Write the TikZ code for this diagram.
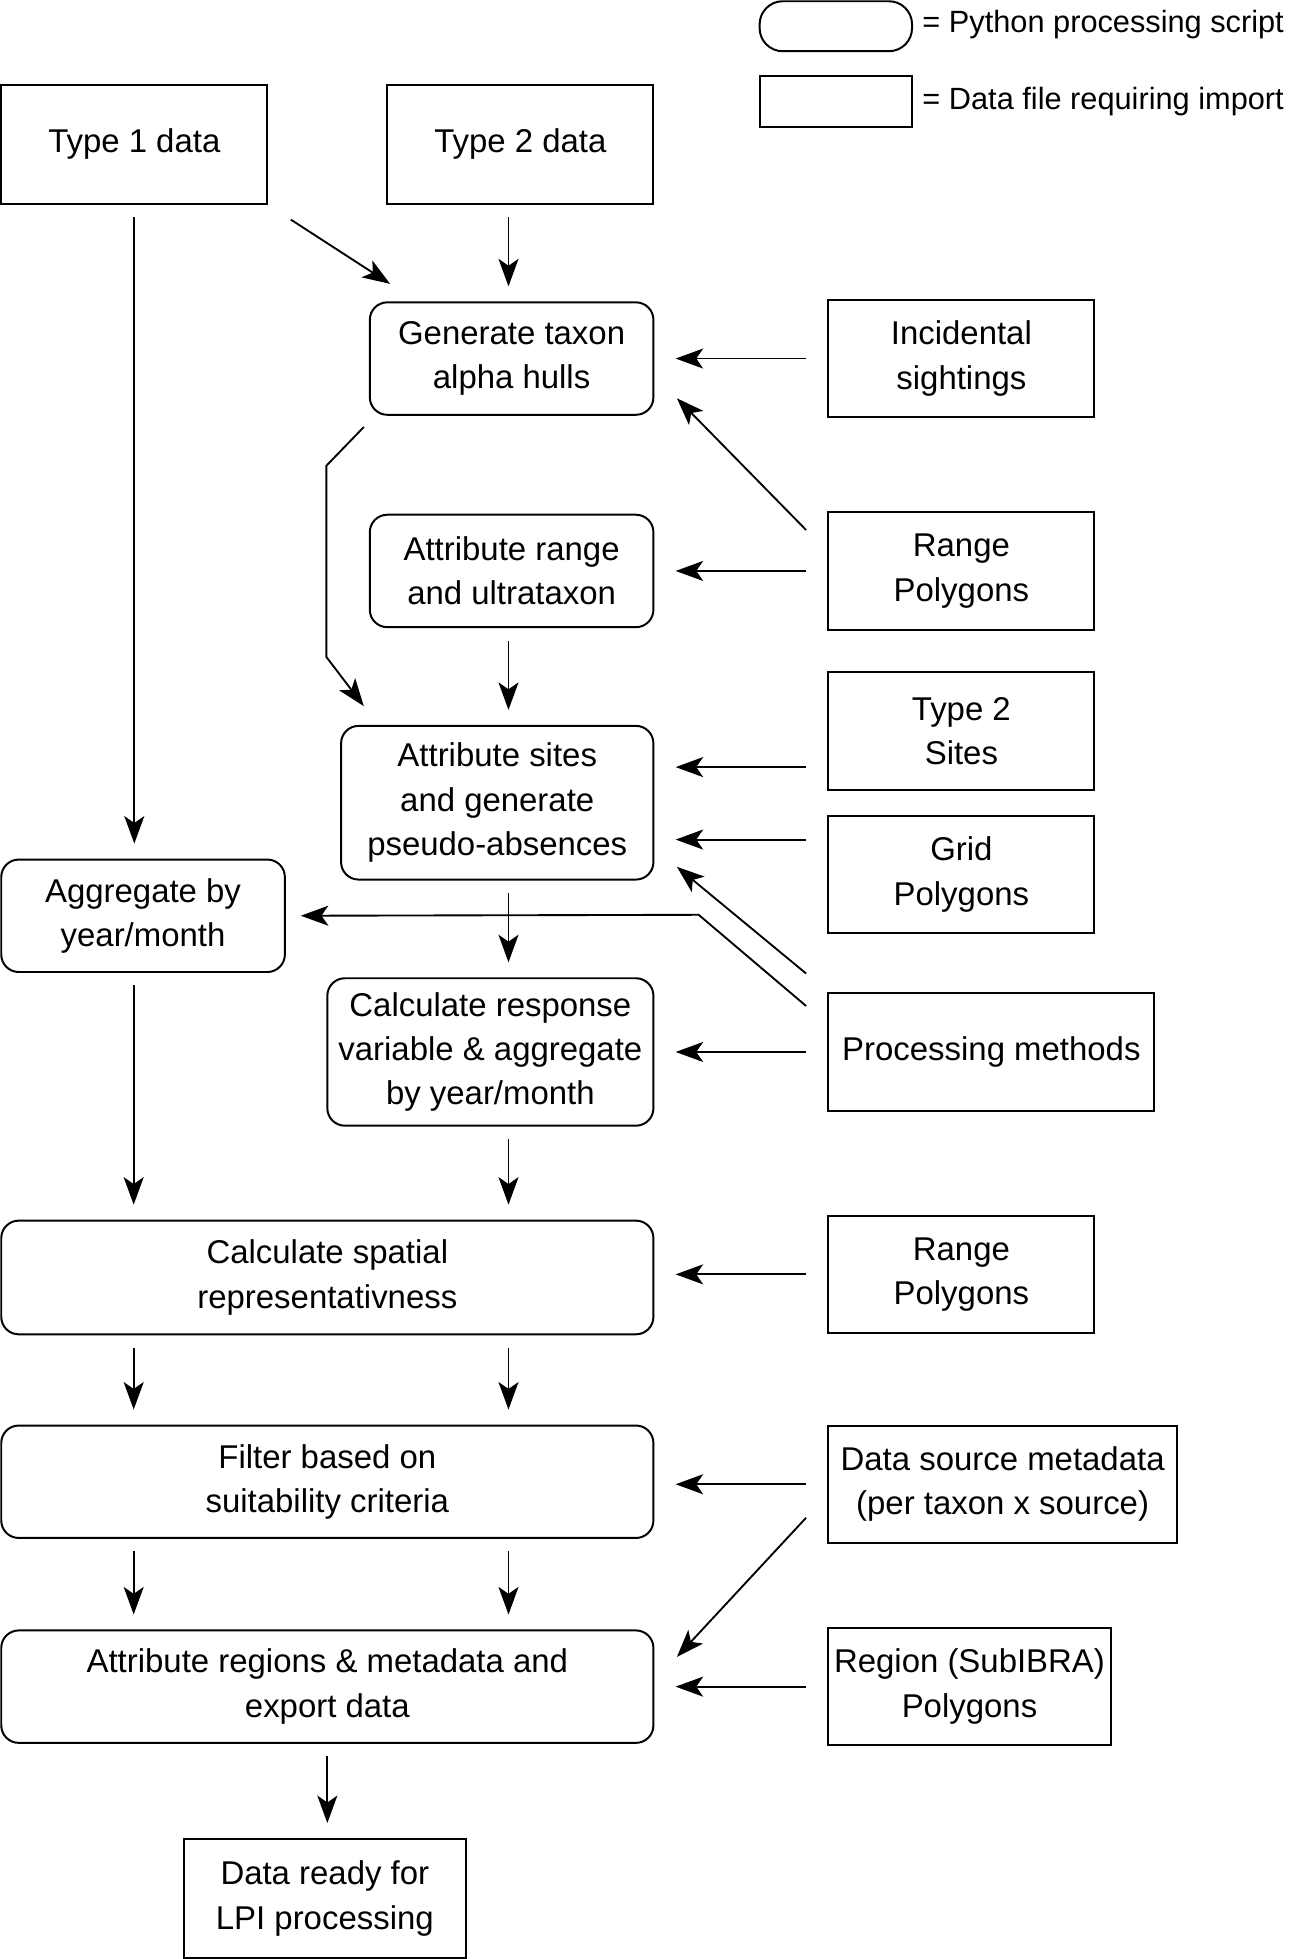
\documentclass[tikz,border=0pt]{standalone}
\usepackage{fontspec}
\setmainfont{Liberation Sans}
\usetikzlibrary{arrows.meta, positioning, calc}

\begin{document}
\begin{tikzpicture}[
  every node/.style={font=\fontsize{15}{20.2}\selectfont, align=center},
  pyscript/.style={draw, line width=0.9pt, rounded corners=0.28cm, inner sep=2pt},
  datafile/.style={draw, line width=0.9pt, inner sep=2pt},
  flow/.style={line width=0.85pt, -{Stealth[length=4.4mm, width=3.2mm, inset=1.1mm]}},
  vflow/.style={flow, shorten <=0.2cm, shorten >=0.24cm},
  hflow/.style={flow, shorten <=0.34cm, shorten >=0.34cm}]
\useasboundingbox (0,0) rectangle (20.66,-31.36);

% Legend
\node[pyscript, rounded corners=0.37cm, minimum width=2.44cm, minimum height=0.8cm] (legscript) at (13.38,-0.42) {};
\node[datafile, minimum width=2.44cm, minimum height=0.82cm] (legdata) at (13.38,-1.63) {};
\node[anchor=west, inner sep=0pt, font=\fontsize{14}{18}\selectfont] (legscripttxt) at (14.76,-0.40) {= Python processing script};
\node[anchor=west, inner sep=0pt, font=\fontsize{14}{18}\selectfont] (legdatatxt) at (14.76,-1.62) {= Data file requiring import};

% Column lines for the vertical arrows
\coordinate (colL) at (2.14,0);
\coordinate (colR) at (8.14,0);

% Input data
\node[datafile, minimum width=4.26cm, minimum height=1.9cm] (type1) at (2.15,-2.31) {Type 1 data};
\node[datafile, minimum width=4.26cm, minimum height=1.9cm] (type2) at (8.33,-2.31) {Type 2 data};

% Processing scripts
\node[pyscript, minimum width=4.54cm, minimum height=1.8cm] (hulls) at (8.19,-5.74) {Generate taxon\\alpha hulls};
\node[pyscript, minimum width=4.54cm, minimum height=1.8cm] (ultra) at (8.19,-9.14) {Attribute range\\and ultrataxon};
\node[pyscript, minimum width=5cm, minimum height=2.46cm] (sites) at (7.96,-12.85) {Attribute sites\\and generate\\pseudo-absences};
\node[pyscript, minimum width=4.54cm, minimum height=1.8cm] (aggr) at (2.29,-14.66) {Aggregate by\\year/month};
\node[pyscript, minimum width=5.22cm, minimum height=2.36cm] (resp) at (7.85,-16.84) {Calculate response\\variable \& aggregate\\by year/month};
\node[pyscript, minimum width=10.44cm, minimum height=1.82cm] (spatial) at (5.24,-20.45) {Calculate spatial\\representativness};
\node[pyscript, minimum width=10.44cm, minimum height=1.8cm] (filter) at (5.24,-23.72) {Filter based on\\suitability criteria};
\node[pyscript, minimum width=10.44cm, minimum height=1.8cm] (export) at (5.24,-27.00) {Attribute regions \& metadata and\\export data};
\node[datafile, minimum width=4.52cm, minimum height=1.9cm] (lpi) at (5.20,-30.39) {Data ready for\\LPI processing};

% Data files on the right
\node[datafile, minimum width=4.26cm, minimum height=1.88cm] (incid) at (15.39,-5.74) {Incidental\\sightings};
\node[datafile, minimum width=4.26cm, minimum height=1.88cm] (range1) at (15.39,-9.14) {Range\\Polygons};
\node[datafile, minimum width=4.26cm, minimum height=1.88cm] (t2sites) at (15.39,-11.70) {Type 2\\Sites};
\node[datafile, minimum width=4.26cm, minimum height=1.88cm] (grid) at (15.39,-14.00) {Grid\\Polygons};
\node[datafile, minimum width=5.22cm, minimum height=1.88cm] (methods) at (15.87,-16.84) {Processing methods};
\node[datafile, minimum width=4.26cm, minimum height=1.88cm] (range2) at (15.39,-20.40) {Range\\Polygons};
\node[datafile, minimum width=5.58cm, minimum height=1.88cm] (meta) at (16.05,-23.76) {Data source metadata\\(per taxon x source)};
\node[datafile, minimum width=4.52cm, minimum height=1.88cm, inner xsep=0pt] (subibra) at (15.52,-27.00) {Region (SubIBRA)\\Polygons};

% Left column
\draw[vflow] (type1.south) -- (type1.south |- aggr.north);
\draw[flow] ($(type1.south east)+(0.36,-0.24)$) -- ($(hulls.north west)+(0.34,0.28)$);
\draw[vflow] (colR |- type2.south) -- (colR |- hulls.north);
\draw[vflow] (colL |- aggr.south) -- (colL |- spatial.north);

% Middle column
\draw[vflow] (colR |- ultra.south) -- (colR |- sites.north);
\draw[flow] ($(hulls.south west)+(-0.08,-0.18)$) -- ++(-0.6,-0.62) -- ++(0,-3.06) -- ($(sites.north west)+(0.38,0.3)$);
\draw[vflow] (colR |- sites.south) -- (colR |- resp.north);
\draw[vflow] (colR |- resp.south) -- (colR |- spatial.north);
\draw[vflow] (colL |- spatial.south) -- (colL |- filter.north);
\draw[vflow] (colR |- spatial.south) -- (colR |- filter.north);
\draw[vflow] (colL |- filter.south) -- (colL |- export.north);
\draw[vflow] (colR |- filter.south) -- (colR |- export.north);
\draw[vflow] (export.south) -- (export.south |- lpi.north);

% Inputs from the right
\draw[hflow] (incid.west) -- (incid.west -| hulls.east);
\draw[flow] ($(range1.north west)+(-0.34,-0.3)$) -- ($(hulls.south east)+(0.36,0.28)$);
\draw[hflow] (range1.west) -- (range1.west -| ultra.east);
\draw[hflow] ([yshift=-0.58cm]t2sites.west) -- ([yshift=0.57cm]sites.east);
\draw[hflow] ([yshift=0.56cm]grid.west) -- ([yshift=-0.59cm]sites.east);
\draw[flow] ($(methods.north west)+(-0.34,0.3)$) -- ($(sites.south east)+(0.36,0.22)$);
\draw[flow, shorten >=0.24cm] ($(methods.north west)+(-0.34,-0.22)$) -- ++(-1.72,1.46) -- (aggr.east);
\draw[hflow] (methods.west) -- (methods.west -| resp.east);
\draw[hflow] (range2.west) -- (range2.west -| spatial.east);
\draw[hflow] (meta.west) -- (meta.west -| filter.east);
\draw[flow] ($(meta.south west)+(-0.34,0.42)$) -- ($(export.north east)+(0.36,-0.44)$);
\draw[hflow] (subibra.west) -- (subibra.west -| export.east);
\end{tikzpicture}
\end{document}
